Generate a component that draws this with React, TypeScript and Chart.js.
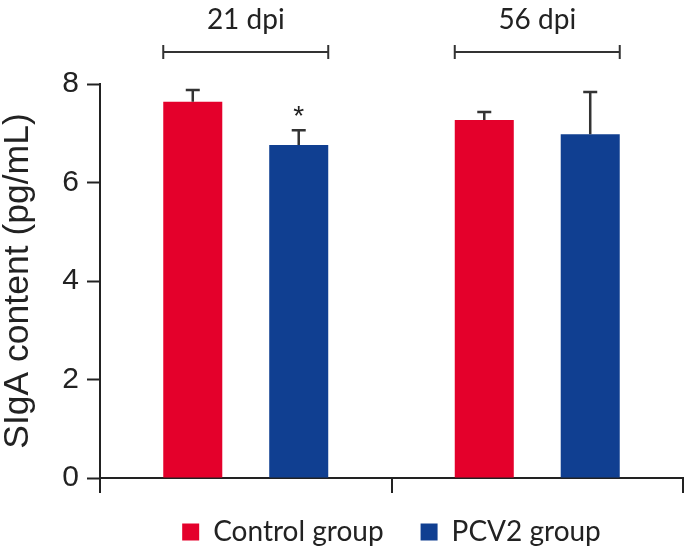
import React, { useEffect, useRef } from "react";
import { Chart, registerables } from "chart.js";

Chart.register(...registerables);

const timepoints = ["21 dpi", "56 dpi"];
const controlMeans = [7.64, 7.27];
const controlErrors = [0.24, 0.16];
const controlMarks = ["", ""];
const pcv2Means = [6.76, 6.98];
const pcv2Errors = [0.3, 0.86];
const pcv2Marks = ["*", ""];
const yTickValues = [0, 2, 4, 6, 8];

const RED = "#E4002B";
const BLUE = "#103F91";
const INK = "#222222";
const SANS = '"Liberation Sans", Arial, sans-serif';
const LEGEND_FONT = 'Lato, "Noto Sans", sans-serif';

const annotations = {
  id: "annotations",
  afterDatasetsDraw(chart: any) {
    const ctx = chart.ctx;
    const yScale = chart.scales.y;
    const area = chart.chartArea;
    ctx.save();
    chart.data.datasets.forEach((ds: any, i: number) => {
      const meta = chart.getDatasetMeta(i);
      meta.data.forEach((el: any, j: number) => {
        const top = yScale.getPixelForValue(ds.data[j] + ds.errors[j]);
        ctx.strokeStyle = "#333333";
        ctx.lineWidth = 2.5;
        ctx.beginPath();
        ctx.moveTo(el.x, el.y);
        ctx.lineTo(el.x, top);
        ctx.moveTo(el.x - 7, top);
        ctx.lineTo(el.x + 7, top);
        ctx.stroke();
        const mark = ds.marks[j];
        if (mark) {
          ctx.fillStyle = INK;
          ctx.font = `28px ${SANS}`;
          ctx.textAlign = "center";
          ctx.textBaseline = "alphabetic";
          ctx.fillText(mark, el.x, top - 5);
        }
      });
    });
    const first = chart.getDatasetMeta(0);
    const last = chart.getDatasetMeta(chart.data.datasets.length - 1);
    chart.data.labels.forEach((label: string, j: number) => {
      const a = first.data[j];
      const b = last.data[j];
      const l = a.x - a.width / 2;
      const r = b.x + b.width / 2;
      const by = area.top - 32;
      ctx.strokeStyle = "#333333";
      ctx.lineWidth = 2;
      ctx.beginPath();
      ctx.moveTo(l, by);
      ctx.lineTo(r, by);
      ctx.moveTo(l, by - 7);
      ctx.lineTo(l, by + 7);
      ctx.moveTo(r, by - 7);
      ctx.lineTo(r, by + 7);
      ctx.stroke();
      ctx.fillStyle = INK;
      ctx.font = `28px ${LEGEND_FONT}`;
      ctx.textAlign = "center";
      ctx.textBaseline = "alphabetic";
      ctx.fillText(label, (l + r) / 2, area.top - 55);
    });
    ctx.restore();
  },
};

export default function App() {
  const canvasRef = useRef<HTMLCanvasElement | null>(null);

  useEffect(() => {
    if (!canvasRef.current) return;
    const chart = new Chart(canvasRef.current, {
      type: "bar",
      data: {
        labels: timepoints,
        datasets: [
          {
            label: "Control group",
            data: controlMeans,
            errors: controlErrors,
            marks: controlMarks,
            backgroundColor: RED,
            categoryPercentage: 0.727,
            barPercentage: 0.557,
          } as any,
          {
            label: "PCV2 group",
            data: pcv2Means,
            errors: pcv2Errors,
            marks: pcv2Marks,
            backgroundColor: BLUE,
            categoryPercentage: 0.727,
            barPercentage: 0.557,
          } as any,
        ],
      },
      options: {
        animation: false,
        responsive: true,
        maintainAspectRatio: false,
        layout: { padding: { top: 84, right: 4, left: 0, bottom: 0 } },
        plugins: {
          tooltip: { enabled: false },
          legend: {
            position: "bottom",
            fullSize: false,
            maxHeight: 70,
            labels: {
              boxWidth: 17,
              boxHeight: 17,
              padding: 37,
              color: INK,
              font: { family: LEGEND_FONT, size: 28 },
            },
          } as any,
        },
        scales: {
          x: {
            grid: {
              offset: true,
              drawOnChartArea: false,
              tickLength: 15,
              tickColor: INK,
              tickWidth: 2,
              color: INK,
              lineWidth: 2,
            },
            border: { color: INK, width: 2 },
            ticks: { display: false },
            afterFit(scale: any) {
              scale.height = 3;
            },
          },
          y: {
            min: 0,
            max: 8,
            afterBuildTicks(scale: any) {
              scale.ticks = yTickValues.map((v) => ({ value: v }));
            },
            grid: {
              drawOnChartArea: false,
              tickLength: 13,
              tickColor: INK,
              tickWidth: 2,
              color: INK,
            },
            border: { color: INK, width: 2 },
            ticks: {
              padding: 8,
              color: INK,
              font: { family: SANS, size: 30 },
            },
            title: {
              display: true,
              text: "SIgA content (pg/mL)",
              color: INK,
              font: { family: SANS, size: 35.5, lineHeight: 1 },
              padding: 0,
            },
            afterFit(scale: any) {
              scale.width = 100;
            },
          },
        },
      },
      plugins: [annotations],
    } as any);
    return () => chart.destroy();
  }, []);

  return (
    <div style={{ position: "fixed", left: 0, top: 0, width: 687, height: 551, background: "#fff" }}>
      <canvas ref={canvasRef} />
    </div>
  );
}
